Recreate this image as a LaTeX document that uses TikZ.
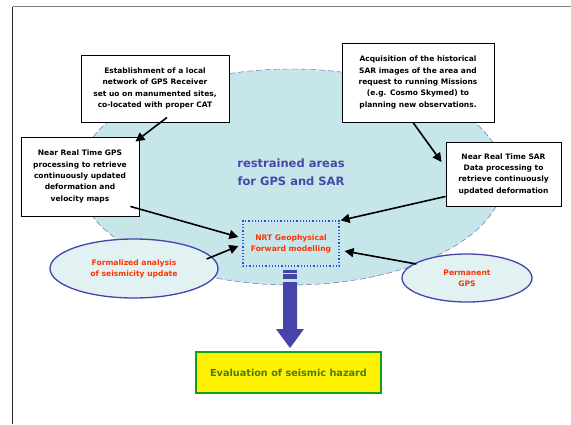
\documentclass[tikz,border=0pt]{standalone}
\usepackage{fontspec}
\setmainfont{DejaVu Sans}
\usepackage{tikz}
\usetikzlibrary{arrows.meta,shapes.geometric}
\definecolor{areafill}{RGB}{198,230,234}
\definecolor{areaborder}{RGB}{90,90,190}
\definecolor{sourcefill}{RGB}{226,242,243}
\definecolor{sourceborder}{RGB}{68,68,170}
\definecolor{titleblue}{RGB}{72,72,168}
\definecolor{modelred}{RGB}{255,51,0}
\definecolor{modelborder}{RGB}{30,80,230}
\definecolor{hazardgreen}{RGB}{20,160,20}
\definecolor{hazardtext}{RGB}{80,120,20}
\tikzset{
    taskbox/.style={
            draw=black, line width=0.9pt, fill=white,
            align=center, inner sep=0pt,
            font=\bfseries\fontsize{7.5}{11.3}\selectfont
        },
    source/.style={
            ellipse, draw=sourceborder, line width=1.3pt, fill=sourcefill,
            align=center, inner sep=0pt, text=modelred,
            font=\bfseries\fontsize{7.6}{11}\selectfont
        },
    feed/.style={
            black, line width=1.6pt, -{Triangle[length=9pt,width=9pt]}
        }
}
\begin{document}
\begin{tikzpicture}[x=1pt,y=-1pt]
        \useasboundingbox (0,0) rectangle (571,424);
        \fill[white] (0,0) rectangle (571,424);
        \draw[black!50, line width=1.3pt] (12.5,6.5) -- (571,6.5);
        \draw[black!85, line width=1.1pt] (12.5,6.5) -- (12.5,424);

        \node[ellipse, draw=areaborder, dash pattern=on 6pt off 3pt, fill=areafill,
            minimum width=426, minimum height=216, inner sep=0pt] (area) at (291,177) {};
        \node[align=center, text=titleblue, font=\bfseries\fontsize{11.5}{18}\selectfont]
        (title) at (291,172) {restrained areas\\for GPS and SAR};

        \node[taskbox, minimum width=148, minimum height=67] (establish) at (155,88.5)
        {Establishment of a local\\network of GPS Receiver\\set uo on manumented sites,\\co-located with proper CAT};
        \node[taskbox, minimum width=152, minimum height=79] (acquire) at (418,82.5)
        {Acquisition of the historical\\SAR images of the area and\\request to running Missions\\(e.g. Cosmo Skymed) to\\planning new observations.};
        \node[taskbox, minimum width=118, minimum height=79] (gpsproc) at (80,176.5)
        {Near Real Time GPS\\processing to retrieve\\continuously updated\\deformation and\\velocity maps};
        \node[taskbox, minimum width=115, minimum height=64] (sarproc) at (503.5,174)
        {Near Real Time SAR\\Data processing to\\retrieve continuously\\updated deformation};

        \node[draw=modelborder, line width=1.2pt, dotted, align=center, text=modelred,
            minimum width=96, minimum height=45, inner sep=0pt,
            font=\bfseries\fontsize{7.6}{11}\selectfont] (nrt) at (291,243.5)
        {NRT Geophysical\\Forward modelling};

        \node[source, minimum width=168, minimum height=59] (seismic) at (134,268.5)
        {Formalized analysis\\of seismicity update};
        \node[source, minimum width=130, minimum height=48] (permgps) at (467,278)
        {Permanent\\GPS};

        \fill[sourceborder] (283,270) rectangle (297,272.5);
        \fill[sourceborder] (283,273.5) rectangle (297,278.5);
        \fill[sourceborder] (283,282) -- (297,282) -- (297,329) -- (304,329)
        -- (290,348) -- (276,329) -- (283,329) -- cycle;

        \node[draw=hazardgreen, line width=1.3pt, fill=yellow, text=hazardtext,
            minimum width=185, minimum height=41, inner sep=0pt,
            font=\bfseries\fontsize{9.7}{11}\selectfont] (hazard) at (288.5,372.5)
        {Evaluation of seismic hazard};

        \draw[feed] ([xshift=12pt,yshift=5pt]establish.south) -- ([xshift=-4pt,yshift=-5pt]gpsproc.north east);
        \draw[feed] ([xshift=-5pt]acquire.south) -- ([xshift=-4pt,yshift=12pt]sarproc.west);
        \draw[feed] ([xshift=-9pt,yshift=10pt]gpsproc.south east) -- ([xshift=-4pt,yshift=6.5pt]nrt.west);
        \draw[feed] ([yshift=10pt]sarproc.south west) -- ([xshift=1pt]nrt.north east);
        \draw[feed] ([xshift=-12pt,yshift=9.5pt]seismic.east) -- ([xshift=-4pt,yshift=-2.5pt]nrt.west);
        \draw[feed] ([xshift=15pt,yshift=14pt]permgps.west) -- ([xshift=5pt,yshift=-7.5pt]nrt.east);

    \end{tikzpicture}
\end{document}
